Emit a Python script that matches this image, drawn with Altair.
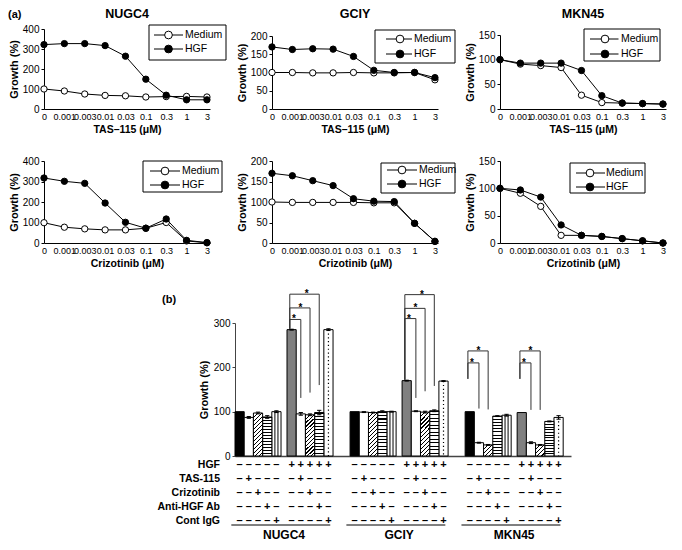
import altair as alt
import pandas as pd

FONT = "Liberation Sans"

# ---------------- (a) dose-response data ----------------
conc_labels = ["0", "0.001", "0.003", "0.01", "0.03", "0.1", "0.3", "1", "3"]

tas_nugc4_medium = [100, 90, 75, 68, 66, 60, 62, 63, 60]
tas_nugc4_hgf = [322, 327, 327, 317, 264, 149, 69, 46, 46]
tas_gciy_medium = [100, 100, 99, 99, 100, 99, 99, 100, 80]
tas_gciy_hgf = [170, 163, 165, 164, 144, 106, 100, 100, 86]
tas_mkn45_medium = [100, 91, 88, 84, 28, 13, 12, 11, 10]
tas_mkn45_hgf = [100, 93, 93, 93, 78, 27, 12, 11, 10]

criz_nugc4_medium = [99, 77, 69, 64, 64, 72, 100, 10, 1]
criz_nugc4_hgf = [317, 301, 291, 195, 101, 72, 117, 13, 2]
criz_gciy_medium = [100, 99, 99, 99, 99, 98, 98, 48, 4]
criz_gciy_hgf = [170, 164, 152, 140, 108, 102, 101, 48, 4]
criz_mkn45_medium = [100, 91, 67, 14, 14, 12, 8, 4, 0]
criz_mkn45_hgf = [100, 97, 84, 33, 14, 12, 8, 4, 0]

y_ticks = {"NUGC4": [0, 100, 200, 300, 400], "GCIY": [0, 50, 100, 150, 200], "MKN45": [0, 50, 100, 150]}
y_max = {"NUGC4": 400, "GCIY": 200, "MKN45": 150}

# ---------------- (b) bar data ----------------
cell_lines = ["NUGC4", "GCIY", "MKN45"]
conditions = ["Medium", "HGF"]
treat_rows = ["HGF", "TAS-115", "Crizotinib", "Anti-HGF Ab", "Cont IgG"]

nugc4_medium_bars = [100, 87, 97, 88, 100]
nugc4_hgf_bars = [285, 95, 93, 98, 285]
gciy_medium_bars = [100, 99, 98, 100, 100]
gciy_hgf_bars = [170, 101, 99, 102, 169]
mkn45_medium_bars = [100, 30, 25, 90, 92]
mkn45_hgf_bars = [98, 30, 25, 78, 87]

nugc4_medium_err = [0, 2, 2, 3, 2]
nugc4_hgf_err = [1, 3, 2, 5, 2]
gciy_medium_err = [0, 1, 1, 2, 1]
gciy_hgf_err = [1, 1, 2, 2, 1]
mkn45_medium_err = [0, 1, 1, 1, 2]
mkn45_hgf_err = [0, 2, 1, 1, 4]

# significance brackets: cell, condition, target bar, top, left leg end, right leg end
brackets = [
    ("NUGC4", "HGF", 1, 308, 287, 131),
    ("NUGC4", "HGF", 2, 334, 287, 143),
    ("NUGC4", "HGF", 3, 365, 287, 160),
    ("GCIY", "HGF", 1, 310, 172, 131),
    ("GCIY", "HGF", 2, 333, 172, 146),
    ("GCIY", "HGF", 3, 364, 172, 158),
    ("MKN45", "Medium", 1, 210, 174, 107),
    ("MKN45", "Medium", 2, 237, 174, 105),
    ("MKN45", "HGF", 1, 210, 174, 104),
    ("MKN45", "HGF", 2, 237, 174, 104),
]

dummy = pd.DataFrame({"k": [0]})

# ======================= (a) panels =======================
PW = 166
PT_SIZE = 40
LG_SIZE = 60


def legend_layers(box, ys, line_x, cx, label_x):
    bx0, bx1, by0, by1 = box
    out = [alt.Chart(dummy).mark_rect(fill="white", stroke="black", strokeWidth=1).encode(
        x=alt.value(bx0), x2=alt.value(bx1), y=alt.value(by0), y2=alt.value(by1))]
    for name, ey, fill in zip(["Medium", "HGF"], ys, ["white", "black"]):
        out.append(alt.Chart(dummy).mark_rule(color="black", strokeWidth=1).encode(
            x=alt.value(line_x[0]), x2=alt.value(line_x[1]), y=alt.value(ey)))
        out.append(alt.Chart(dummy).mark_point(shape="circle", filled=True, fill=fill, stroke="black",
                                               strokeWidth=1, size=LG_SIZE, opacity=1).encode(
            x=alt.value(cx), y=alt.value(ey)))
        out.append(alt.Chart(dummy).mark_text(align="left", baseline="middle", font=FONT, fontSize=10.5,
                                              color="black").encode(
            x=alt.value(label_x), y=alt.value(ey), text=alt.value(name)))
    return out


def text_at(txt, x, y, size=11, align="left", bold=True, baseline="alphabetic"):
    return alt.Chart(dummy).mark_text(align=align, baseline=baseline, font=FONT, fontSize=size,
                                      fontWeight="bold" if bold else "normal", color="black").encode(
        x=alt.value(x), y=alt.value(y), text=alt.value(txt))


def growth_panel(medium, hgf, cell, xtitle, H, ytop, legend, title=None, extra=()):
    df = pd.DataFrame({
        "idx": list(range(len(conc_labels))) * 2,
        "growth": medium + hgf,
        "series": ["Medium"] * len(medium) + ["HGF"] * len(hgf),
    })
    lab_arr = "[" + ",".join("'%s'" % s for s in conc_labels) + "]"
    X = alt.X("idx:Q", scale=alt.Scale(domain=[0, 8.15], nice=False, zero=False),
              axis=alt.Axis(values=list(range(9)), labelExpr=lab_arr + "[datum.value]", ticks=False, tickSize=0,
                            labelOverlap=False, labelFlush=False, labelPadding=3, labelFontSize=9,
                            title=xtitle, titleFontSize=10.5, titleFontWeight="bold", titlePadding=3,
                            domainColor="black", grid=False))
    Y = alt.Y("growth:Q", scale=alt.Scale(domain=[0, y_max[cell]], range=[H, ytop], nice=False),
              axis=alt.Axis(values=y_ticks[cell], tickSize=3, labelPadding=2, labelFontSize=10,
                            title="Growth (%)", titleFontSize=11, titleFontWeight="bold", titlePadding=3,
                            domainColor="black", tickColor="black", grid=False))
    base = alt.Chart(df)
    layers = []
    for s, fill in [("Medium", "white"), ("HGF", "black")]:
        sub = base.transform_filter(alt.datum.series == s)
        layers.append(sub.mark_line(color="black", strokeWidth=1).encode(x=X, y=Y))
        layers.append(sub.mark_point(shape="circle", filled=True, fill=fill, stroke="black", strokeWidth=1,
                                     size=PT_SIZE, opacity=1).encode(x=X, y=Y))
    layers += legend_layers(*legend)
    if title:
        layers.append(text_at(title, PW / 2, -11, size=12.5, align="center"))
    layers += list(extra)
    return alt.layer(*layers).properties(width=PW, height=H)


H1, H2 = 80, 82
xt1 = "TAS–115 (μM)"
xt2 = "Crizotinib (μM)"

r1 = alt.hconcat(
    growth_panel(tas_nugc4_medium, tas_nugc4_hgf, "NUGC4", xt1, H1, 0,
                 ((105, 182, -4, 31), (6, 20), (110, 139), 124.5, 141), "NUGC4",
                 [text_at("(a)", -36, -11)]),
    growth_panel(tas_gciy_medium, tas_gciy_hgf, "GCIY", xt1, H1, 7,
                 ((103, 183, 1, 34), (10, 25), (114, 140), 128, 142), "GCIY"),
    growth_panel(tas_mkn45_medium, tas_mkn45_hgf, "MKN45", xt1, H1, 6,
                 ((84, 160, 0, 32), (10, 25), (90, 118.5), 105, 121), "MKN45"),
    spacing=62, bounds="flush")

r2 = alt.hconcat(
    growth_panel(criz_nugc4_medium, criz_nugc4_hgf, "NUGC4", xt2, H2, 0,
                 ((99, 178, 0, 31), (10, 24), (106, 136), 121, 138)),
    growth_panel(criz_gciy_medium, criz_gciy_hgf, "GCIY", xt2, H2, 0,
                 ((109, 183, 2, 32), (9, 23), (115, 145), 130, 147)),
    growth_panel(criz_mkn45_medium, criz_mkn45_hgf, "MKN45", xt2, H2, 0,
                 ((70, 145, 2, 32), (12, 26), (76, 105), 90, 106)),
    spacing=62, bounds="flush")

# ======================= (b) bar panel =======================
SLOT_GROUP = 12.5
SLOT_HGF = 5.65
X_END = 36.5
BW, BH = 336, 133

bar_values = {
    ("NUGC4", "Medium"): (nugc4_medium_bars, nugc4_medium_err),
    ("NUGC4", "HGF"): (nugc4_hgf_bars, nugc4_hgf_err),
    ("GCIY", "Medium"): (gciy_medium_bars, gciy_medium_err),
    ("GCIY", "HGF"): (gciy_hgf_bars, gciy_hgf_err),
    ("MKN45", "Medium"): (mkn45_medium_bars, mkn45_medium_err),
    ("MKN45", "HGF"): (mkn45_hgf_bars, mkn45_hgf_err),
}
kinds_by_cond = {"Medium": ["black", "white", "diag", "hstripe", "vstripe"],
                 "HGF": ["grey", "white", "diag", "hstripe", "dotted"]}


def bar_left(ci, gi, b):
    return ci * SLOT_GROUP + gi * SLOT_HGF + b


rows = []
table = []
for ci, cell in enumerate(cell_lines):
    for gi, cond in enumerate(conditions):
        vals, errs = bar_values[(cell, cond)]
        for b in range(5):
            left = bar_left(ci, gi, b)
            rows.append(dict(cell=cell, cond=cond, bar=b, kind=kinds_by_cond[cond][b], left=left,
                             right=left + 1, mid=left + 0.5, cl=left + 0.27, cr=left + 0.73,
                             value=vals[b], err=errs[b], lo=vals[b] - errs[b], hi=vals[b] + errs[b]))
            for ri, rname in enumerate(treat_rows):
                plus = (cond == "HGF") if ri == 0 else (b == ri)
                table.append(dict(mid=left + 0.5, row=ri, sym="+" if plus else "–"))
bars = pd.DataFrame(rows)
table = pd.DataFrame(table)

segs = []
stars = []
count = {}
for cell, cond, tgt, top, lend, rend in brackets:
    ci = cell_lines.index(cell)
    gi = conditions.index(cond)
    L = bar_left(ci, gi, 0) + 0.3
    R = bar_left(ci, gi, tgt) + 0.5
    k = count.get((cell, cond), 0)
    count[(cell, cond)] = k + 1
    segs += [dict(x=L, x2=L, y=lend, y2=top), dict(x=L, x2=R, y=top, y2=top), dict(x=R, x2=R, y=top, y2=rend)]
    stars.append(dict(x=L + 0.45 + 0.7 * k, y=top))
segs = pd.DataFrame(segs)
stars = pd.DataFrame(stars)

groups = pd.DataFrame([dict(cell=c, x0=bar_left(i, 0, 0) - 0.4, x1=bar_left(i, 1, 5) - 0.3,
                            xc=(bar_left(i, 0, 0) + bar_left(i, 1, 5)) / 2) for i, c in enumerate(cell_lines)])

XS = alt.Scale(domain=[0, X_END], nice=False, zero=False)
YS = alt.Scale(domain=[0, 300], nice=False)
XAX = alt.Axis(title=None, labels=False, ticks=False, grid=False, domainColor="#444", domainWidth=1.5)
YAX = alt.Axis(values=[0, 100, 200, 300], tickSize=3, labelPadding=2, labelFontSize=10, title="Growth (%)",
               titleFontSize=11, titleFontWeight="bold", titlePadding=4, domainColor="#444",
               tickColor="#444", grid=False)


def bx(f):
    return alt.X(f + ":Q", scale=XS, axis=XAX)


def by(f):
    return alt.Y(f + ":Q", scale=YS, axis=YAX, stack=None)


def stripe_gradient(n, frac, x2, y2):
    stops = []
    for i in range(n):
        a, b, c = i / n, (i + frac) / n, (i + 1) / n
        stops += [alt.GradientStop(offset=a, color="black"), alt.GradientStop(offset=b, color="black"),
                  alt.GradientStop(offset=b, color="white"), alt.GradientStop(offset=c, color="white")]
    return alt.LinearGradient(gradient="linear", stops=stops, x1=0, y1=0, x2=x2, y2=y2)


def diag_gradient(w, h, period=4.0, frac=0.32):
    s = (w + h) / (w * w + h * h)
    n = max(2, round((w + h) / period))
    return stripe_gradient(n, frac, w * s, h * s)


slot_px = BW / X_END
px_per_unit = BH / 300.0
H_GRAD = stripe_gradient(13, 0.33, 0, 1)
D_TALL = diag_gradient(slot_px, 96 * px_per_unit)
D_SHORT = diag_gradient(slot_px, 25 * px_per_unit)

bb = alt.Chart(bars)
solid_kinds = ["black", "white", "grey", "vstripe", "dotted"]
lay = []
lay.append(bb.transform_filter(alt.FieldOneOfPredicate(field="kind", oneOf=solid_kinds))
           .mark_bar(stroke="black", strokeWidth=1)
           .encode(x=bx("left"), x2="right", y=by("value"), y2=alt.datum(0),
                   fill=alt.Fill("kind:N", scale=alt.Scale(domain=solid_kinds,
                                                           range=["black", "white", "#808080", "white", "white"]),
                                 legend=None)))
lay.append(bb.transform_filter(alt.datum.kind == "hstripe").mark_bar(fill=H_GRAD, stroke="black", strokeWidth=1)
           .encode(x=bx("left"), x2="right", y=by("value"), y2=alt.datum(0)))
lay.append(bb.transform_filter("datum.kind == 'diag' && datum.cell != 'MKN45'")
           .mark_bar(fill=D_TALL, stroke="black", strokeWidth=1)
           .encode(x=bx("left"), x2="right", y=by("value"), y2=alt.datum(0)))
lay.append(bb.transform_filter("datum.kind == 'diag' && datum.cell == 'MKN45'")
           .mark_bar(fill=D_SHORT, stroke="black", strokeWidth=1)
           .encode(x=bx("left"), x2="right", y=by("value"), y2=alt.datum(0)))
for off in (-1.53, 1.53):
    lay.append(bb.transform_filter(alt.datum.kind == "vstripe").mark_rule(color="black", strokeWidth=1, xOffset=off)
               .encode(x=bx("mid"), y=by("value"), y2=alt.datum(0)))
lay.append(bb.transform_filter(alt.datum.kind == "dotted")
           .mark_rule(color="black", strokeWidth=1.2, strokeDash=[1.2, 2.6])
           .encode(x=bx("mid"), y=by("value"), y2=alt.datum(0)))
eb = bb.transform_filter(alt.datum.err > 0)
lay.append(eb.mark_rule(color="black", strokeWidth=1).encode(x=bx("mid"), y=by("lo"), y2="hi"))
lay.append(eb.mark_rule(color="black", strokeWidth=1).encode(x=bx("cl"), x2="cr", y=by("hi")))
lay.append(eb.mark_rule(color="black", strokeWidth=1).encode(x=bx("cl"), x2="cr", y=by("lo")))
lay.append(alt.Chart(segs).mark_rule(color="#333", strokeWidth=1)
           .encode(x=bx("x"), x2="x2", y=by("y"), y2="y2"))
lay.append(alt.Chart(stars).mark_text(text="*", font=FONT, fontSize=10, fontWeight="bold", baseline="alphabetic",
                                      align="center", dy=3, color="black")
           .encode(x=bx("x"), y=by("y")))

ROW0, ROWSTEP = 8.5, 14.0
tb = alt.Chart(table)
for ri, rname in enumerate(treat_rows):
    yy = BH + ROW0 + ROWSTEP * ri
    lay.append(tb.transform_filter(alt.datum.row == ri)
               .mark_text(font=FONT, fontSize=11, fontWeight="bold", baseline="middle", align="center",
                          color="black")
               .encode(x=bx("mid"), y=alt.value(yy), text="sym:N"))
    lay.append(text_at(rname, -15, yy, size=10.5, align="right", baseline="middle"))
gb = alt.Chart(groups)
lay.append(gb.mark_rule(color="black", strokeWidth=1).encode(x=bx("x0"), x2="x1", y=alt.value(BH + 69)))
lay.append(gb.mark_text(font=FONT, fontSize=12, fontWeight="bold", baseline="middle", align="center",
                        color="black")
           .encode(x=bx("xc"), y=alt.value(BH + 79), text="cell:N"))
lay.append(text_at("(b)", -73, -20))

bottom = alt.layer(*lay).properties(width=BW, height=BH)
spacer = alt.Chart(dummy).mark_point(opacity=0).encode(x=alt.value(0), y=alt.value(0)).properties(
    width=191, height=BH)
r3 = alt.hconcat(spacer, bottom, spacing=0, bounds="flush")

chart = alt.vconcat(
    alt.vconcat(r1, r2, spacing=21),
    r3, spacing=20
).properties(padding=0).configure_view(stroke=None).configure_axis(
    labelFont=FONT, titleFont=FONT, labelColor="black", titleColor="black"
)

chart.save("out.html", embed_options={"renderer": "svg", "actions": False})
